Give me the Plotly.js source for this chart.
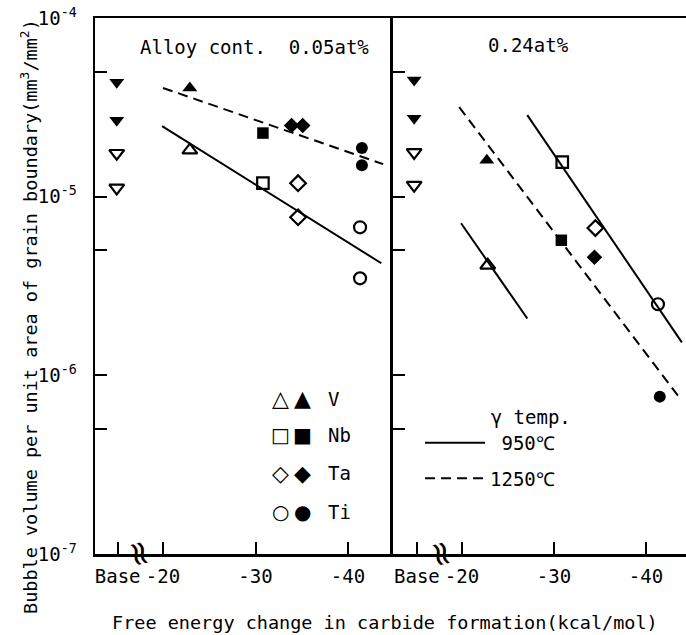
<!DOCTYPE html>
<html>
<head>
<meta charset="utf-8">
<script src="https://cdn.plot.ly/plotly-3.0.1.min.js"></script>
<style>html,body{margin:0;padding:0;background:#fff;}#chart{width:686px;height:635px;}</style>
</head>
<body>
<div id="chart"></div>
<script>
// ---- axis ticks ----
const xTickVals = [-15.1, -20, -30, -40];
const xTickText = ["Base", "-20", "-30", "-40"];
const yTickVals = [1e-7, 5e-7, 1e-6, 5e-6, 1e-5, 5e-5, 1e-4];
const yTickText = ["10<sup>-7</sup>", "", "10<sup>-6</sup>", "", "10<sup>-5</sup>", "", "10<sup>-4</sup>"];

// ---- panel 1 : alloy content 0.05 at% ----
const base05_x = [-15.0, -15.0];
const base05_950 = [1.75e-5, 1.12e-5];
const base05_1250 = [4.37e-5, 2.68e-5];
const el05_950 = ["V", "Nb", "Ta", "Ta", "Ti", "Ti"];
const dG05_950 = [-22.9, -30.8, -34.6, -34.6, -41.3, -41.3];
const vol05_950 = [1.82e-5, 1.19e-5, 1.19e-5, 7.67e-6, 6.74e-6, 3.49e-6];
const el05_1250 = ["V", "Nb", "Ta", "Ta", "Ti", "Ti"];
const dG05_1250 = [-22.9, -30.8, -33.9, -35.1, -41.5, -41.5];
const vol05_1250 = [4.06e-5, 2.27e-5, 2.5e-5, 2.5e-5, 1.87e-5, 1.5e-5];
const fit05_950_x = [-19.9, -43.6];
const fit05_950_y = [2.48e-5, 4.24e-6];
const fit05_1250_x = [-20.0, -43.8];
const fit05_1250_y = [4.06e-5, 1.52e-5];

// ---- panel 2 : alloy content 0.24 at% ----
const base24_x = [-14.8, -14.8];
const base24_950 = [1.77e-5, 1.16e-5];
const base24_1250 = [4.5e-5, 2.75e-5];
const el24 = ["V", "Nb", "Ta", "Ti"];
const dG24_950 = [-22.8, -30.9, -34.5, -41.3];
const vol24_950 = [4.13e-6, 1.56e-5, 6.67e-6, 2.5e-6];
const dG24_1250 = [-22.7, -30.8, -34.4, -41.5];
const vol24_1250 = [1.6e-5, 5.7e-6, 4.58e-6, 7.6e-7];
const fit24_950a_x = [-27.1, -43.9];
const fit24_950a_y = [2.86e-5, 1.53e-6];
const fit24_950b_x = [-19.9, -27.1];
const fit24_950b_y = [7.1e-6, 2.08e-6];
const fit24_1250_x = [-19.7, -43.7];
const fit24_1250_y = [3.17e-5, 7.43e-7];

// ---- legend labels ----
const elemNames = ["V", "Nb", "Ta", "Ti"];
const openGlyphs = ["△", "□", "◇", "○"];
const fillGlyphs = ["▲", "■", "◆", "●"];
const tempNames = ["\u00a0950℃", "1250℃"];
const tempTitle = "\u00a0\u00a0\u00a0\u00a0\u00a0\u00a0γ temp.";

const symBase = {V: "triangle-up", Nb: "square", Ta: "diamond", Ti: "circle"};
const symSize = {V: 13, Nb: 11.5, Ta: 12, Ti: 12};
const FONT = "DejaVu Sans Mono";

function pts(x, y, els, open, xa, ya) {
  return {
    x: x, y: y, xaxis: xa, yaxis: ya, mode: "markers", type: "scatter", showlegend: false,
    hoverinfo: "skip",
    marker: {
      symbol: els.map(e => symBase[e] + (open ? "-open" : "")),
      size: els.map(e => symSize[e]),
      opacity: 1,
      color: "#000",
      line: {color: "#000", width: open ? 2.2 : 0}
    }
  };
}
function base(x, y, open, xa, ya) {
  return {
    x: x, y: y, xaxis: xa, yaxis: ya, mode: "markers", type: "scatter", showlegend: false,
    hoverinfo: "skip",
    marker: {symbol: open ? "triangle-down-open" : "triangle-down", size: 13, color: "#000", opacity: 1,
             line: {color: "#000", width: open ? 2.2 : 0}}
  };
}
function fit(x, y, dashed, xa, ya, name, show) {
  return {
    x: x, y: y, xaxis: xa, yaxis: ya, mode: "lines", type: "scatter",
    name: name, legendgroup: name, showlegend: show, hoverinfo: "skip",
    line: {color: "#000", width: 2, dash: dashed ? "10px,6px" : "solid"}
  };
}

const data = [
  fit(fit05_950_x, fit05_950_y, false, "x", "y", tempNames[0], true),
  fit(fit05_1250_x, fit05_1250_y, true, "x", "y", tempNames[1], true),
  fit(fit24_950a_x, fit24_950a_y, false, "x2", "y2", tempNames[0], false),
  fit(fit24_950b_x, fit24_950b_y, false, "x2", "y2", tempNames[0], false),
  fit(fit24_1250_x, fit24_1250_y, true, "x2", "y2", tempNames[1], false),
  base(base05_x, base05_950, true, "x", "y"),
  base(base05_x, base05_1250, false, "x", "y"),
  base(base24_x, base24_950, true, "x2", "y2"),
  base(base24_x, base24_1250, false, "x2", "y2"),
  pts(dG05_950, vol05_950, el05_950, true, "x", "y"),
  pts(dG05_1250, vol05_1250, el05_1250, false, "x", "y"),
  pts(dG24_950, vol24_950, el24, true, "x2", "y2"),
  pts(dG24_1250, vol24_1250, el24, false, "x2", "y2")
];

const xCommon = {
  tickmode: "array", tickvals: xTickVals, ticktext: xTickText,
  ticks: "inside", ticklen: 12, tickwidth: 2, tickcolor: "#000",
  showline: true, linewidth: 2.5, linecolor: "#000", mirror: true,
  showgrid: false, zeroline: false, ticklabelstandoff: 4,
  tickfont: {family: FONT, size: 19, color: "#000"}
};
const yCommon = {
  type: "log", range: [-7, -4], tickmode: "array", tickvals: yTickVals, ticktext: yTickText,
  ticks: "inside", ticklen: 12, tickwidth: 2, tickcolor: "#000",
  showline: true, linewidth: 2.5, linecolor: "#000", mirror: false,
  showgrid: false, zeroline: false,
  tickfont: {family: FONT, size: 19, color: "#000"}
};

const split = 0.5042;
const annotations = [
  {text: "Alloy cont.  0.05at%", xref: "paper", yref: "paper", x: 0.2707, y: 0.946,
   xanchor: "center", yanchor: "middle",
   showarrow: false, font: {family: FONT, size: 19, color: "#000"}},
  {text: "0.24at%", xref: "paper", yref: "paper", x: 0.7327, y: 0.9496,
   xanchor: "center", yanchor: "middle",
   showarrow: false, font: {family: FONT, size: 19, color: "#000"}},
  {text: "Bubble volume per unit area of grain boundary(mm<sup>3</sup>/mm<sup>2</sup>)",
   xref: "paper", yref: "paper", x: -0.1117, y: 0.444, textangle: -90,
   xanchor: "center", yanchor: "middle",
   showarrow: false, font: {family: FONT, size: 18.5, color: "#000"}},
  {text: "Free energy change in carbide formation(kcal/mol)",
   xref: "paper", yref: "paper", x: 0.4907, y: -0.1287, xanchor: "center", yanchor: "middle",
   showarrow: false, font: {family: FONT, size: 18.5, color: "#000"}},
  {text: "≈", xref: "x", yref: "paper", x: -17.6, y: 0, textangle: 75, xanchor: "center", yanchor: "middle",
   showarrow: false, font: {family: "DejaVu Sans", size: 34, color: "#000"}},
  {text: "≈", xref: "x2", yref: "paper", x: -17.9, y: 0, textangle: 75, xanchor: "center", yanchor: "middle",
   showarrow: false, font: {family: "DejaVu Sans", size: 34, color: "#000"}}
];
const rowY = [0.2892, 0.222, 0.1511, 0.0784];
const glyphSize = [22, 20, 22, 20];
elemNames.forEach((n, i) => {
  annotations.push({text: "<b>" + openGlyphs[i] + "</b>", xref: "paper", yref: "paper", x: 0.3147, y: rowY[i],
    xanchor: "center", yanchor: "middle",
    showarrow: false, font: {family: "DejaVu Sans", size: glyphSize[i], color: "#000"}});
  annotations.push({text: fillGlyphs[i], xref: "paper", yref: "paper", x: 0.3519, y: rowY[i],
    xanchor: "center", yanchor: "middle",
    showarrow: false, font: {family: "DejaVu Sans", size: glyphSize[i], color: "#000"}});
  annotations.push({text: n, xref: "paper", yref: "paper", x: 0.3909, y: rowY[i], xanchor: "left",
    yanchor: "middle",
    showarrow: false, font: {family: FONT, size: 19, color: "#000"}});
});

const layout = {
  width: 686, height: 635,
  margin: {l: 95, r: 0, t: 18, b: 81},
  paper_bgcolor: "#fff", plot_bgcolor: "#fff",
  font: {family: FONT, size: 19, color: "#000"},
  showlegend: true,
  xaxis: Object.assign({}, xCommon, {domain: [0, split], range: [-12.65, -44.86], anchor: "y"}),
  yaxis: Object.assign({}, yCommon, {anchor: "x", ticklabelstandoff: 12}),
  xaxis2: Object.assign({}, xCommon, {domain: [split, 1], range: [-12.5, -44.35], anchor: "y2"}),
  yaxis2: Object.assign({}, yCommon, {anchor: "x2", showticklabels: false}),
  legend: {
    x: 0.55, y: 0.289, xanchor: "left", yanchor: "top",
    bgcolor: "rgba(0,0,0,0)", borderwidth: 0, tracegroupgap: 8, itemwidth: 60,
    title: {text: tempTitle, side: "top", font: {family: FONT, size: 19, color: "#000"}},
    font: {family: FONT, size: 19, color: "#000"}
  },
  annotations: annotations
};

Plotly.newPlot("chart", data, layout, {staticPlot: true, displayModeBar: false});
</script>
</body>
</html>
